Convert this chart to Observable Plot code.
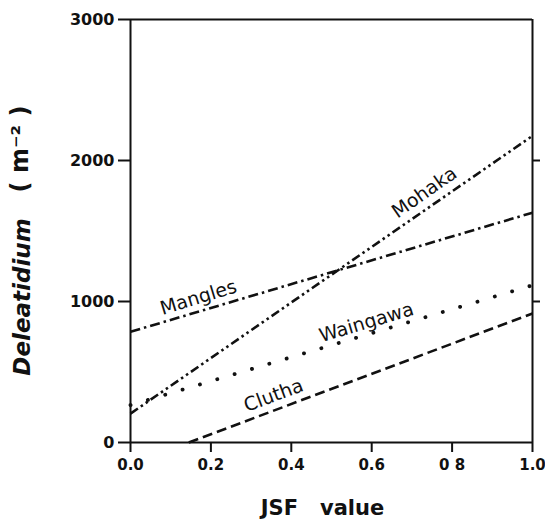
<!DOCTYPE html>
<html><head><meta charset="utf-8">
<script src="https://cdn.jsdelivr.net/npm/d3@7"></script>
<script src="https://cdn.jsdelivr.net/npm/@observablehq/plot@0.6"></script>
<style>body{margin:0;background:#fff}</style>
</head><body><div id="chart"></div>
<script>
const seriesNames = ["Mohaka", "Mangles", "Waingawa", "Clutha"];
const startX = [0, 0, 0, 0.145];
const startY = [205, 785, 265, 0];
const endX = [1, 1, 1, 1];
const endY = [2175, 1630, 1115, 915];
const labelX = [0.731, 0.169, 0.587, 0.356];
const labelY = [1773, 1028, 851, 333];
const xTicks = [0, 0.2, 0.4, 0.6, 0.8, 1.0];
const xTickLabels = ["0.0", "0.2", "0.4", "0.6", "0 8", "1.0"];
const yTicks = [0, 1000, 2000, 3000];
const yRightTicks = [1000, 2000];

const dashes = {Mohaka: "9 3.5 2.5 3.5 2.5 3.5", Mangles: "10 4 2.5 4", Waingawa: "0.1 18", Clutha: "10 5"};
const caps = {Mohaka: "butt", Mangles: "butt", Waingawa: "round", Clutha: "butt"};
const widths = {Mohaka: 2.6, Mangles: 2.6, Waingawa: 3.8, Clutha: 2.6};
const rot = {Mohaka: -35, Mangles: -17, Waingawa: -16.5, Clutha: -20.5};

const lines = seriesNames.map((s, i) => ({name: s, pts: [{x: startX[i], y: startY[i]}, {x: endX[i], y: endY[i]}]}));
const labels = seriesNames.map((s, i) => ({name: s, x: labelX[i], y: labelY[i]}));

const font = "DejaVu Sans";
const chart = Plot.plot({
  width: 545, height: 519,
  marginLeft: 130, marginRight: 13, marginTop: 19, marginBottom: 77,
  style: {fontFamily: font, background: "#fff", color: "#111"},
  x: {domain: [0, 1]},
  y: {domain: [0, 3000]},
  marks: [
    Plot.ruleY([0, 3000], {stroke: "#111", strokeWidth: 2}),
    Plot.ruleX([0, 1], {stroke: "#111", strokeWidth: 2}),
    Plot.axisY({ticks: yTicks, tickSize: 12, tickPadding: 4, tickFormat: d => String(d), label: null, fontSize: 16, fontWeight: "bold", strokeWidth: 2}),
    Plot.axisY({anchor: "right", ticks: yRightTicks, tickSize: 7, tickFormat: () => "", label: null, strokeWidth: 2}),
    Plot.axisX({ticks: xTicks, tickSize: 10, tickPadding: 7, tickFormat: (d, i) => xTickLabels[i], label: null, fontSize: 15, fontWeight: "bold", strokeWidth: 2}),
    ...lines.map(l => Plot.line(l.pts, {x: "x", y: "y", stroke: "#111", strokeWidth: widths[l.name], strokeDasharray: dashes[l.name], strokeLinecap: caps[l.name]})),
    ...labels.map(l => Plot.text([l], {x: "x", y: "y", text: "name", rotate: rot[l.name], fontSize: 19, fill: "#111", letterSpacing: "0.5px"})),
    Plot.text(["Deleatidium"], {frameAnchor: "left", textAnchor: "middle", lineAnchor: "middle", dx: -108, dy: 66, rotate: -90, fontSize: 23, fontWeight: "bold", fontStyle: "italic", fill: "#111", letterSpacing: "0.5px"}),
    Plot.text(["( m\u207B\u00B2 )"], {frameAnchor: "left", textAnchor: "middle", lineAnchor: "middle", dx: -110, dy: -82, rotate: -90, fontSize: 24, fontWeight: "bold", fill: "#111"}),
    Plot.text(["JSF   value"], {frameAnchor: "bottom", textAnchor: "middle", lineAnchor: "middle", dx: -9, dy: 66, fontSize: 21, fontWeight: "bold", fill: "#111", letterSpacing: "2.5px"})
  ]
});
document.getElementById("chart").appendChild(chart);
</script>
</body></html>
